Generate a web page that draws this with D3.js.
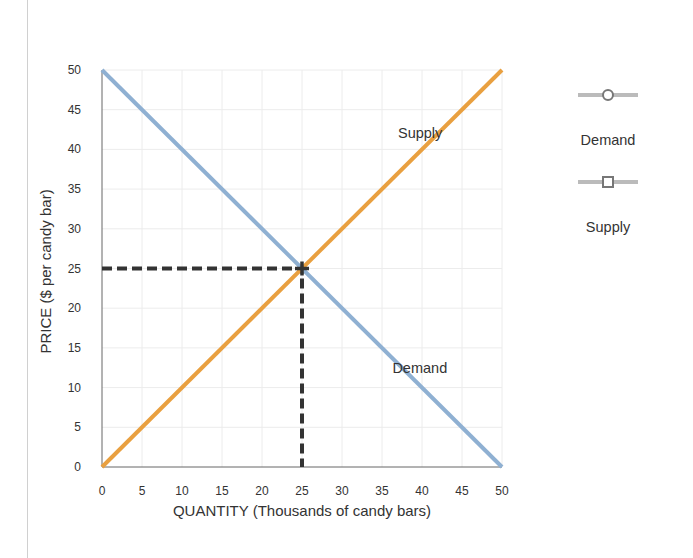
<!DOCTYPE html>
<html><head><meta charset="utf-8">
<script src="https://cdn.jsdelivr.net/npm/d3@7"></script>
<style>body{margin:0;background:#fff;font-family:Arial,"Liberation Sans",sans-serif}</style>
</head><body>
<svg id="c" width="693" height="558"></svg>
<script>
const xTicks=[0,5,10,15,20,25,30,35,40,45,50];
const yTicks=[0,5,10,15,20,25,30,35,40,45,50];
const demandQ=[0,50];
const demandP=[50,0];
const supplyQ=[0,50];
const supplyP=[0,50];
const eqQ=[0,25,25];
const eqP=[25,25,0];
const seriesNames=["Demand","Supply"];

const svg=d3.select("#c");
const x=d3.scaleLinear().domain([0,50]).range([102,502]);
const y=d3.scaleLinear().domain([0,50]).range([467,70]);

svg.append("line").attr("x1",27.5).attr("x2",27.5).attr("y1",0).attr("y2",558).attr("stroke","#d0d0d0");

svg.append("g").selectAll("line").data(xTicks.slice(1)).join("line")
 .attr("x1",d=>x(d)).attr("x2",d=>x(d)).attr("y1",y(0)).attr("y2",y(50)).attr("stroke","#ececec");
svg.append("g").selectAll("line").data(yTicks.slice(1)).join("line")
 .attr("x1",x(0)).attr("x2",x(50)).attr("y1",d=>y(d)).attr("y2",d=>y(d)).attr("stroke","#ececec");

svg.append("line").attr("x1",x(0)).attr("x2",x(0)).attr("y1",y(0)).attr("y2",y(50)).attr("stroke","#666");
svg.append("line").attr("x1",x(0)).attr("x2",x(50)).attr("y1",y(0)).attr("y2",y(0)).attr("stroke","#666");

svg.append("g").selectAll("text").data(yTicks).join("text")
 .attr("x",81).attr("y",d=>y(d)+4).attr("text-anchor","end").attr("font-size",12).attr("fill","#333").text(d=>d);
svg.append("g").selectAll("text").data(xTicks).join("text")
 .attr("x",d=>x(d)).attr("y",495).attr("text-anchor","middle").attr("font-size",12).attr("fill","#333").text(d=>d);

svg.append("text").attr("x",x(25)).attr("y",516).attr("text-anchor","middle").attr("font-size",15).attr("fill","#333")
 .text("QUANTITY (Thousands of candy bars)");
svg.append("text").attr("transform",`translate(51,${y(25)+3}) rotate(-90)`).attr("text-anchor","middle").attr("font-size",15).attr("fill","#333")
 .text("PRICE ($ per candy bar)");

const line=d3.line().x(d=>x(d[0])).y(d=>y(d[1]));
svg.append("path").datum(eqQ.map((q,i)=>[q,eqP[i]])).attr("d",line).attr("fill","none")
 .attr("stroke","#333").attr("stroke-width",4).attr("stroke-dasharray","10,5");

svg.append("path").datum(demandQ.map((q,i)=>[q,demandP[i]])).attr("d",line).attr("fill","none")
 .attr("stroke","#8fb0d2").attr("stroke-width",4);
svg.append("path").datum(supplyQ.map((q,i)=>[q,supplyP[i]])).attr("d",line).attr("fill","none")
 .attr("stroke","#e9a040").attr("stroke-width",4);

const cx=x(25),cy=y(25);
svg.append("path").attr("d",`M${cx-7},${cy}H${cx+7}M${cx},${cy-7}V${cy+7}`).attr("stroke","#333").attr("stroke-width",3.5);

svg.append("text").attr("x",x(37)).attr("y",y(42)+4).attr("font-size",14.5).attr("fill","#333").text("Supply");
svg.append("text").attr("x",x(36.3)).attr("y",y(12.3)+4).attr("font-size",14.5).attr("fill","#333").text("Demand");

const lg=svg.append("g");
const ly=[95,182];
lg.selectAll("line").data(seriesNames).join("line")
 .attr("x1",578).attr("x2",638).attr("y1",(d,i)=>ly[i]).attr("y2",(d,i)=>ly[i]).attr("stroke","#bbb").attr("stroke-width",4);
lg.append("circle").attr("cx",608).attr("cy",ly[0]).attr("r",5).attr("fill","#fff").attr("stroke","#777").attr("stroke-width",2);
lg.append("rect").attr("x",603).attr("y",ly[1]-5).attr("width",10).attr("height",10).attr("fill","#fff").attr("stroke","#777").attr("stroke-width",2);
lg.selectAll("text").data(seriesNames).join("text")
 .attr("x",608).attr("y",(d,i)=>[145,232][i]).attr("text-anchor","middle").attr("font-size",14.5).attr("fill","#333").text(d=>d);
</script>
</body></html>
